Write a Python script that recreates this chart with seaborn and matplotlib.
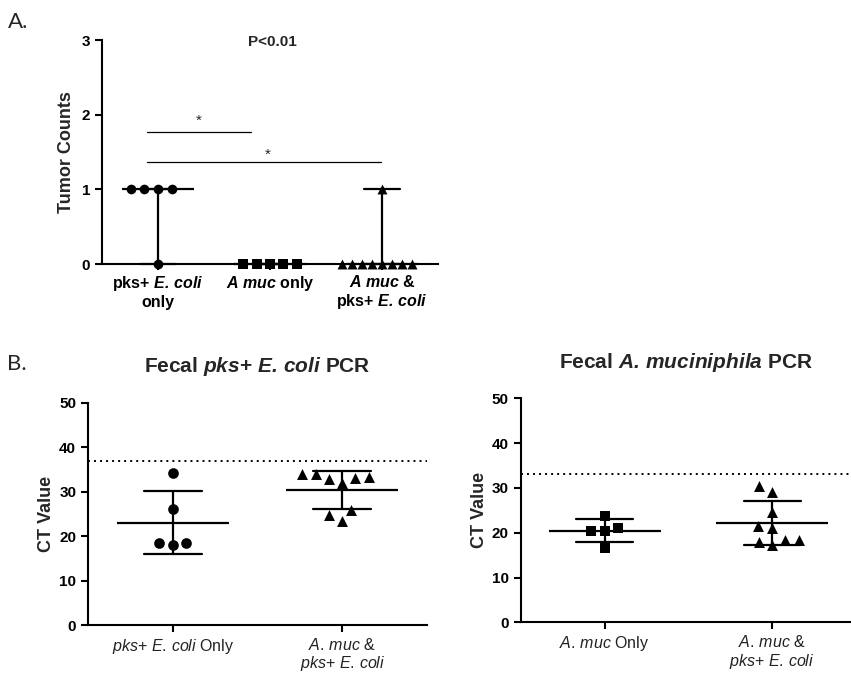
import numpy as np
import pandas as pd
import seaborn as sns
import matplotlib.pyplot as plt
from matplotlib.markers import MarkerStyle
from matplotlib.transforms import Affine2D

# A. tumor counts per mouse
tumor_groups = ["pks+ E. coli only", "A muc only", "A muc & pks+ E. coli"]
tumor_pks = [1, 1, 1, 1, 0]
tumor_amuc = [0, 0, 0, 0, 0]
tumor_both = [1, 0, 0, 0, 0, 0, 0, 0, 0]
tumor_labels = [
    r"pks+ $\mathbfit{E.\,coli}$" + "\nonly",
    r"$\mathbfit{A\ muc}$ only",
    r"$\mathbfit{A\ muc}$ &" + "\n" + r"pks+ $\mathbfit{E.\,coli}$",
]

# B. fecal PCR CT values
pks_groups = ["pks+ E. coli Only", "A. muc & pks+ E. coli"]
pks_ct_pks = [34.3, 26.0, 18.5, 18.5, 17.9]
pks_ct_both = [33.9, 33.4, 32.8, 32.0, 33.1, 33.9, 25.9, 24.7, 23.5]
pks_cutoff = 37
pks_labels = [
    r"$\mathit{pks}$+ $\mathit{E.\,coli}$ Only",
    r"$\mathit{A.\,muc}$ &" + "\n" + r"$\mathit{pks}$+ $\mathit{E.\,coli}$",
]

amuc_groups = ["A. muc Only", "A. muc & pks+ E. coli"]
amuc_ct_amuc = [23.7, 20.4, 20.4, 21.1, 16.5]
amuc_ct_both = [30.4, 29.2, 24.6, 21.6, 21.0, 18.4, 17.3, 18.0, 18.4]
amuc_cutoff = 33
amuc_labels = [
    r"$\mathit{A.\,muc}$ Only",
    r"$\mathit{A.\,muc}$ &" + "\n" + r"$\mathit{pks}$+ $\mathit{E.\,coli}$",
]

sns.set_style("ticks")
plt.rcParams["font.family"] = ["Liberation Sans", "DejaVu Sans"]
plt.rcParams["mathtext.fontset"] = "custom"
plt.rcParams["mathtext.rm"] = "Liberation Sans"
plt.rcParams["mathtext.it"] = "Liberation Sans:italic"
plt.rcParams["mathtext.bf"] = "Liberation Sans:bold"
plt.rcParams["mathtext.bfit"] = "Liberation Sans:italic:bold"


def long_df(groups, values):
    rows = []
    for g, vals in zip(groups, values):
        for v in vals:
            rows.append({"group": g, "value": v})
    return pd.DataFrame(rows)


def mk(shape, scale):
    # marker drawn smaller than the swarm spacing, like GraphPad does
    return MarkerStyle(shape, transform=Affine2D().scale(scale))


def draw_groups(ax, df, order, markers, est, err, mean_w, cap):
    for g, (shape, size, scale) in zip(order, markers):
        sub = df[df["group"] == g]
        sns.swarmplot(data=sub, x="group", y="value", order=order, marker=mk(shape, scale),
                      color="black", size=size, ax=ax, zorder=3)
        sns.pointplot(data=sub, x="group", y="value", order=order, estimator=est,
                      errorbar=err, capsize=cap, marker="_", markersize=mean_w,
                      markeredgewidth=1.6, linestyle="none", color="black",
                      err_kws={"linewidth": 1.6}, ax=ax)
    for art in ax.collections + ax.lines:
        art.set_clip_on(False)


def style_axes(ax):
    sns.despine(ax=ax)
    for s in ["left", "bottom"]:
        ax.spines[s].set_linewidth(1.5)
        ax.spines[s].set_color("black")
    ax.tick_params(width=1.5, length=5, color="black", labelcolor="black")
    ax.set_xlabel("")


fig = plt.figure(figsize=(8.51, 6.73), dpi=100)

# ---- panel A
axA = fig.add_axes([0.1199, 0.6077, 0.3948, 0.3328])
dfA = long_df(tumor_groups, [tumor_pks, tumor_amuc, tumor_both])
draw_groups(axA, dfA, tumor_groups, [("o", 9.4, 0.74), ("s", 9.2, 0.78), ("^", 6.8, 1.05)],
            "median", ("pi", 100), 52, 0.32)
style_axes(axA)
axA.set_xlim(-0.5, 2.5)
axA.set_ylim(0, 3)
axA.set_yticks([0, 1, 2, 3])
axA.set_xticks(range(3))
axA.set_xticklabels(tumor_labels, fontsize=11.5, fontweight="bold", linespacing=1.1)
axA.tick_params(axis="x", length=4)
for t in axA.get_yticklabels():
    t.set_fontweight("bold")
    t.set_fontsize(11)
axA.set_ylabel("Tumor Counts", fontsize=13, fontweight="bold", labelpad=5)
axA.plot([-0.1, 0.83], [1.77, 1.77], color="black", lw=0.9)
axA.plot([-0.1, 1.99], [1.37, 1.37], color="black", lw=0.9)
axA.text(0.36, 1.92, "*", ha="center", va="center", fontsize=11)
axA.text(0.98, 1.46, "*", ha="center", va="center", fontsize=11)
axA.text(1.02, 2.97, "P<0.01", ha="center", va="center", fontsize=11, fontweight="bold")


def panel_b(rect, groups, vals, markers, cutoff, labels, title, xmax):
    ax = fig.add_axes(rect)
    df = long_df(groups, vals)
    draw_groups(ax, df, groups, markers, "mean", "sd", 80, 0.34)
    style_axes(ax)
    ax.axhline(cutoff, color="black", lw=1.4, ls=(0, (1, 2.1)))
    ax.set_xlim(-0.5, xmax)
    ax.set_ylim(0, 50)
    ax.set_yticks([0, 10, 20, 30, 40, 50])
    ax.set_xticks(range(2))
    ax.set_xticklabels(labels, fontsize=11.5, color="#222222", linespacing=1.1)
    for t in ax.get_yticklabels():
        t.set_fontweight("bold")
        t.set_fontsize(11)
    ax.set_ylabel("CT Value", fontsize=13, fontweight="bold", labelpad=3)
    ax.set_title(title, fontsize=15, fontweight="bold", pad=22)
    return ax


panel_b([0.1034, 0.0713, 0.3984, 0.3303], pks_groups, [pks_ct_pks, pks_ct_both],
        [("o", 9.6, 0.8), ("^", 9.6, 0.82)], pks_cutoff, pks_labels,
        r"Fecal $\mathbfit{pks}$+ $\mathbfit{E.\,coli}$ PCR", 1.5)
panel_b([0.6119, 0.0753, 0.3881, 0.3328], amuc_groups, [amuc_ct_amuc, amuc_ct_both],
        [("s", 9.6, 0.8), ("^", 9.6, 0.82)], amuc_cutoff, amuc_labels,
        r"Fecal $\mathbfit{A.\,muciniphila}$ PCR", 1.47)

fig.text(0.009, 1 - 28 / 673, "A.", fontsize=16, family="Lato")
fig.text(0.008, 1 - 370 / 673, "B.", fontsize=16, family="Lato")

fig.savefig("out.png", dpi=100)
